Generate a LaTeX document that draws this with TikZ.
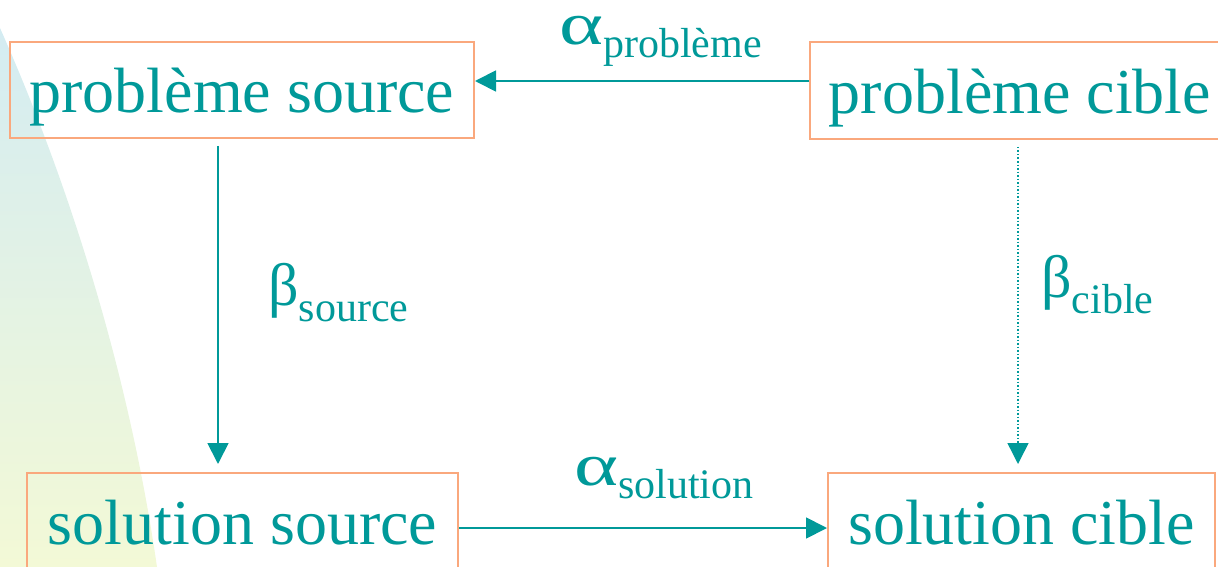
\documentclass[tikz,border=0pt]{standalone}
\usepackage{fontspec}
\usepackage{graphicx}
\setmainfont{Liberation Serif}
\usetikzlibrary{arrows.meta}
\definecolor{ink}{RGB}{0,153,153}
\definecolor{frame}{RGB}{250,168,125}
\definecolor{bgtop}{RGB}{212,236,242}
\definecolor{bgbot}{RGB}{243,249,214}
\tikzset{
  stage/.style={draw=frame, line width=2pt, inner sep=0pt, text=ink,
    text height=50pt, text depth=4pt,
    font=\fontsize{64}{70}\selectfont},
  flow/.style={draw=ink, line width=1.8pt, -{Triangle[length=21pt,width=21pt]}},
  hint/.style={draw=ink, line width=1.5pt, dotted, -{Triangle[length=21pt,width=21pt]}},
  tag/.style={text=ink, inner sep=0pt, anchor=base west}
}
\newcommand{\grk}[1]{{\fontsize{60}{62}\selectfont #1}}
\newcommand{\wgrk}[1]{{\fontsize{60}{62}\selectfont\scalebox{1.4}[1]{#1}}}
\newcommand{\idx}[2]{\raisebox{-#1}{\fontsize{42}{44}\selectfont #2}}
\begin{document}
\begin{tikzpicture}[x=1pt,y=-1pt]
  \useasboundingbox (0,0) rectangle (1218,567);
  \clip (0,0) rectangle (1218,567);
  % soft background swoosh on the left
  \shade[top color=bgtop, bottom color=bgbot]
    (0,28) .. controls (72,190) and (130,380) .. (157,567) -- (0,567) -- cycle;

  % the four boxes
  \node[stage, minimum width=464pt, minimum height=96pt] (ps) at (242,90) {problème source};
  \node[stage, minimum width=420pt, minimum height=97pt] (pc) at (1020,90.5) {problème cible};
  \node[stage, minimum width=431pt, minimum height=96pt] (ss) at (242.5,521) {solution source};
  \node[stage, minimum width=387pt, minimum height=96pt] (sc) at (1021.5,521) {solution cible};

  % helper coordinates for arrow rows and columns
  \coordinate (rowtop) at (0,81);
  \coordinate (rowbot) at (0,528);
  \coordinate (colleft) at (218,0);
  \coordinate (colright) at (1018,0);

  % connectors
  \draw[flow] (pc.west |- rowtop) -- (ps.east |- rowtop);
  \draw[flow, shorten <=7pt, shorten >=8pt] (colleft |- ps.south) -- (colleft |- ss.north);
  \draw[hint, shorten <=7pt, shorten >=8pt] (colright |- pc.south) -- (colright |- sc.north);
  \draw[flow] (ss.east |- rowbot) -- (sc.west |- rowbot);

  % labels
  \node[tag] (la) at (559,45) {\wgrk{α}\idx{13pt}{problème}};
  \node[tag] (lb) at (268,305) {\grk{β}\idx{16pt}{source}};
  \node[tag] (lc) at (1041,297) {\grk{β}\idx{16pt}{cible}};
  \node[tag] (ld) at (574,485) {\wgrk{α}\idx{13pt}{solution}};
\end{tikzpicture}
\end{document}
